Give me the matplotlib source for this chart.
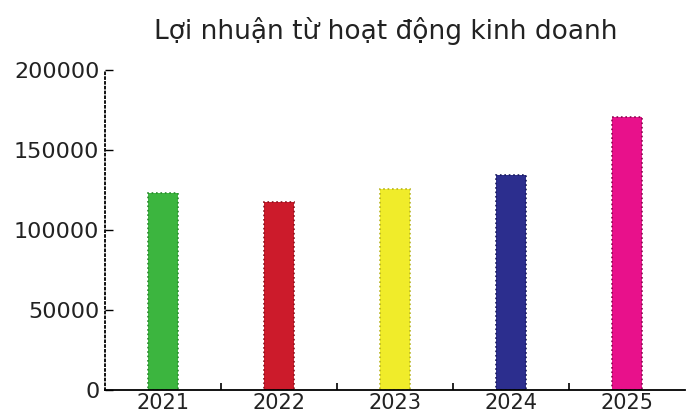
import numpy as np
import matplotlib
matplotlib.use('Agg')
import matplotlib.pyplot as plt

# Data
years = ['2021', '2022', '2023', '2024', '2025']
profit = [123000, 117500, 125600, 134400, 170600]
colors = ['#3cb53f', '#cc1b2b', '#f0ec2a', '#2c2e8e', '#e8118b']
edge_colors = ['#2a8a2e', '#8a1420', '#b8b420', '#1c1d5e', '#8a0a50']
title = 'Lợi nhuận từ hoạt động kinh doanh'

fig = plt.figure(figsize=(6.86, 4.16), dpi=100)
ax = fig.add_axes([0.153, 0.0625, 0.8455, 0.77])

x = np.arange(len(years))
ax.bar(x, profit, width=0.26, color=colors, edgecolor=edge_colors,
       linewidth=1.2, linestyle=':')

ax.set_xlim(-0.5, len(years) - 0.5)
ax.set_ylim(0, 200000)
ax.set_yticks([0, 50000, 100000, 150000, 200000])
ax.set_yticklabels(['0', '50000', '100000', '150000', '200000'])

# labels under bars, small tick marks between bars
ax.set_xticks(x)
ax.set_xticklabels(years)
ax.set_xticks(x[:-1] + 0.5, minor=True)
ax.tick_params(axis='x', which='major', length=0, pad=2, labelsize=15, labelcolor='#222222')
ax.tick_params(axis='x', which='minor', direction='in', length=5, width=1.2)
ax.tick_params(axis='y', direction='in', length=6, width=1, pad=4, labelsize=16, labelcolor='#222222')

ax.spines['top'].set_visible(False)
ax.spines['right'].set_visible(False)
ax.spines['left'].set_linestyle(':')
ax.spines['left'].set_linewidth(1.3)
ax.spines['bottom'].set_linewidth(1.3)

fig.text(0.563, 0.925, title, ha='center', va='center', fontsize=19, color='#222222')

fig.savefig('out.png', dpi=100)
